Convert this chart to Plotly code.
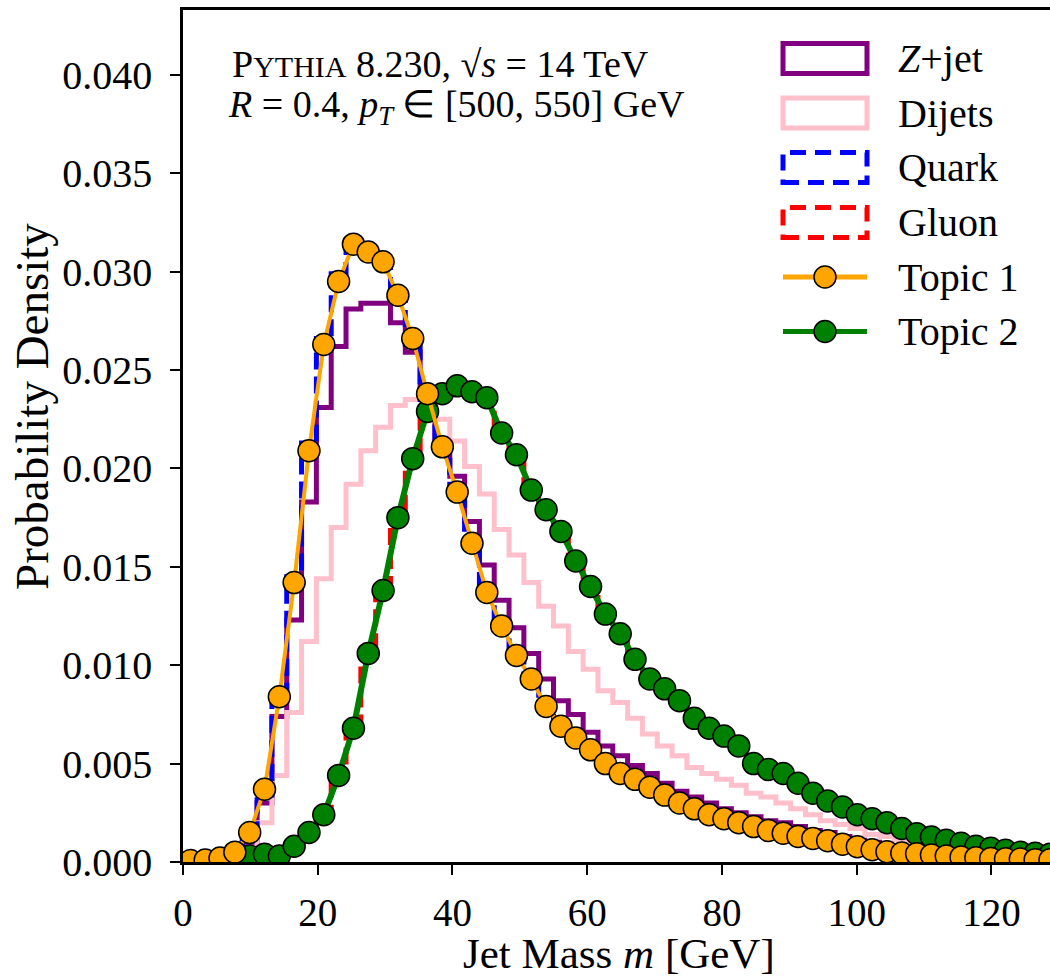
import numpy as np
import plotly.graph_objects as go

# ---------------- data ----------------
bin_edges = np.linspace(0.0, 132.0, 61)
bin_centers = 0.5 * (bin_edges[:-1] + bin_edges[1:])

zjet = [0.0, 0.00005, 0.0001, 0.0003, 0.0010, 0.0030, 0.0074, 0.0123, 0.0183, 0.0231,
        0.0262, 0.0281, 0.0284, 0.0284, 0.0274, 0.0259, 0.0236, 0.0212, 0.0196, 0.0173,
        0.0151, 0.0133, 0.0119, 0.0106, 0.0093, 0.0082, 0.0075, 0.0066, 0.0059, 0.0054,
        0.0049, 0.0045, 0.0040, 0.0036, 0.0033, 0.0030, 0.0027, 0.0025, 0.0023, 0.0021,
        0.0020, 0.0018, 0.0016, 0.0015, 0.0013, 0.0011, 0.0010, 0.0008, 0.0007, 0.0006,
        0.0005, 0.0005, 0.0004, 0.0004, 0.0003, 0.0003, 0.0003, 0.0002, 0.0002, 0.0002]

dijets = [0.0, 0.0, 0.00005, 0.0002, 0.0006, 0.0020, 0.0044, 0.0076, 0.0112, 0.0144,
          0.0170, 0.0192, 0.0209, 0.0221, 0.0232, 0.0235, 0.0237, 0.0225, 0.0214, 0.0201,
          0.0187, 0.0169, 0.0156, 0.0142, 0.0130, 0.0120, 0.0107, 0.0098, 0.0087, 0.0081,
          0.0073, 0.0065, 0.0059, 0.0054, 0.0048, 0.0045, 0.0042, 0.0039, 0.0035, 0.0033,
          0.0030, 0.0027, 0.0024, 0.0021, 0.0019, 0.0017, 0.0014, 0.0013, 0.0011, 0.0010,
          0.0009, 0.0008, 0.0007, 0.0006, 0.0005, 0.0005, 0.0004, 0.0004, 0.0003, 0.0003]

quark = [0.0001, 0.0001, 0.0002, 0.0005, 0.0012, 0.0034, 0.0080, 0.0145, 0.0213, 0.0266,
         0.0299, 0.0316, 0.0312, 0.0304, 0.0286, 0.0263, 0.0235, 0.0209, 0.0186, 0.0160,
         0.0135, 0.0118, 0.0104, 0.0092, 0.0078, 0.0069, 0.0062, 0.0056, 0.0050, 0.0045,
         0.0042, 0.0038, 0.0034, 0.0030, 0.0027, 0.0024, 0.0022, 0.0020, 0.0018, 0.0016,
         0.00146, 0.0013, 0.0012, 0.00108, 0.0009, 0.00078, 0.00062, 0.00052, 0.00046, 0.00042,
         0.00035, 0.0003, 0.00025, 0.00022, 0.00018, 0.00016, 0.00015, 0.00012, 0.00011, 0.0001]

gluon = [0.00002, 0.00003, 0.00005, 0.0001, 0.0003, 0.0004, 0.0003, 0.0008, 0.0015, 0.0024,
         0.0043, 0.0067, 0.0105, 0.0139, 0.0176, 0.0206, 0.0230, 0.0239, 0.0242, 0.0238,
         0.0235, 0.0218, 0.0206, 0.0189, 0.0178, 0.0167, 0.0153, 0.0140, 0.0126, 0.0116,
         0.0103, 0.0094, 0.0088, 0.0081, 0.0073, 0.0068, 0.0064, 0.0059, 0.0051, 0.0047,
         0.0045, 0.0040, 0.0035, 0.0031, 0.0028, 0.0024, 0.0022, 0.0020, 0.0017, 0.00144,
         0.00127, 0.0011, 0.00095, 0.0008, 0.0007, 0.0006, 0.0005, 0.00045, 0.0004, 0.00035]

topic1 = [0.00007, 0.0001, 0.0002, 0.0005, 0.0015, 0.0037, 0.0084, 0.0142, 0.0209, 0.0263,
          0.0295, 0.0314, 0.0310, 0.0305, 0.0288, 0.0266, 0.0238, 0.0211, 0.0188, 0.0162,
          0.0137, 0.0120, 0.0105, 0.0093, 0.0079, 0.0069, 0.0063, 0.0057, 0.0050, 0.0045,
          0.0042, 0.0038, 0.0034, 0.0030, 0.0027, 0.0024, 0.0022, 0.0020, 0.0018, 0.0016,
          0.00146, 0.0013, 0.0012, 0.00108, 0.0009, 0.00078, 0.00062, 0.00052, 0.00046, 0.00042,
          0.00035, 0.0003, 0.00025, 0.00022, 0.00018, 0.00016, 0.00015, 0.00012, 0.00011, 0.0001]

topic2 = [0.00002, 0.00003, 0.00005, 0.0001, 0.0003, 0.0004, 0.0003, 0.0008, 0.0015, 0.0024,
          0.0044, 0.0068, 0.0106, 0.0138, 0.0175, 0.0205, 0.0229, 0.0238, 0.0242, 0.0239,
          0.0236, 0.0218, 0.0207, 0.0189, 0.0179, 0.0168, 0.0153, 0.0140, 0.0126, 0.0116,
          0.0103, 0.0093, 0.0088, 0.0082, 0.0073, 0.0068, 0.0064, 0.0059, 0.0050, 0.0047,
          0.0045, 0.0040, 0.0035, 0.0031, 0.0028, 0.0024, 0.0022, 0.0020, 0.0017, 0.00144,
          0.00127, 0.0011, 0.00095, 0.0008, 0.0007, 0.0006, 0.0005, 0.00045, 0.0004, 0.00035]

x_ticks = [0, 20, 40, 60, 80, 100, 120]
y_ticks = [0.000, 0.005, 0.010, 0.015, 0.020, 0.025, 0.030, 0.035, 0.040]

legend_labels = ["<i>Z</i>+jet", "Dijets", "Quark", "Gluon", "Topic 1", "Topic 2"]

# ---------------- figure ----------------
FONT = "Liberation Serif"
W, H = 1050, 978
L, R, T, B = 183, 0, 10, 116
PW, PH = W - L - R, H - T - B

fig = go.Figure()


def step_trace(vals, color, dash=None, width=5):
    y = list(vals) + [vals[-1]]
    return go.Scatter(x=bin_edges, y=y, mode="lines", line_shape="hv",
                      line=dict(color=color, width=width, dash=dash),
                      showlegend=False, hoverinfo="skip")


fig.add_trace(step_trace(zjet, "purple"))
fig.add_trace(step_trace(dijets, "pink"))
fig.add_trace(step_trace(quark, "blue", dash="17px,7px"))
fig.add_trace(step_trace(gluon, "red", dash="17px,7px"))

fig.add_trace(go.Scatter(x=bin_centers, y=topic2, mode="lines+markers",
                         line=dict(color="green", width=6),
                         marker=dict(size=22, color="green", line=dict(color="black", width=1.5)),
                         showlegend=False, hoverinfo="skip"))
fig.add_trace(go.Scatter(x=bin_centers, y=topic1, mode="lines+markers",
                         line=dict(color="orange", width=4),
                         marker=dict(size=22, color="orange", line=dict(color="black", width=1.5)),
                         showlegend=False, hoverinfo="skip"))


def px(xp):
    return (xp - L) / PW


def py(yp):
    return (H - B - yp) / PH


shapes = []
annotations = []

# manual legend
sym_x0, sym_x1 = 783, 867
rows = [58.5, 113, 167.5, 222.5, 277, 331.5]
styles = [("purple", None), ("pink", None), ("blue", "dash"), ("red", "dash")]
for i, (c, d) in enumerate(styles):
    yc = rows[i]
    shapes.append(dict(type="rect", xref="paper", yref="paper",
                       x0=px(sym_x0), x1=px(sym_x1), y0=py(yc + 15), y1=py(yc - 15),
                       line=dict(color=c, width=5, dash="16px,9px" if d else None),
                       fillcolor="rgba(0,0,0,0)", layer="above"))
for i, (c, lw) in enumerate([("orange", 5), ("green", 5)]):
    yc = rows[4 + i]
    shapes.append(dict(type="line", xref="paper", yref="paper",
                       x0=px(sym_x0), x1=px(sym_x1), y0=py(yc), y1=py(yc),
                       line=dict(color=c, width=lw), layer="above"))
    xc = (sym_x0 + sym_x1) / 2
    shapes.append(dict(type="circle", xref="paper", yref="paper",
                       x0=px(xc - 11), x1=px(xc + 11), y0=py(yc + 11), y1=py(yc - 11),
                       line=dict(color="black", width=1.5), fillcolor=c, layer="above"))

for i, lab in enumerate(legend_labels):
    annotations.append(dict(text=lab, xref="paper", yref="paper", x=px(896), y=py(rows[i]),
                            xanchor="left", yanchor="middle", showarrow=False,
                            font=dict(family=FONT, size=40, color="black")))

# info text
annotations.append(dict(text="P<span style='font-size:30px'>YTHIA</span> 8.230, √<i>s</i> = 14 TeV",
                        xref="paper", yref="paper", x=px(230), y=py(64),
                        xanchor="left", yanchor="middle", showarrow=False,
                        font=dict(family=FONT, size=38, color="black")))
annotations.append(dict(text="<i>R</i> = 0.4, <i>p<sub>T</sub></i> ∈ [500, 550] GeV",
                        xref="paper", yref="paper", x=px(226), y=py(107),
                        xanchor="left", yanchor="middle", showarrow=False,
                        font=dict(family=FONT, size=38, color="black")))

# axis titles
annotations.append(dict(text="Jet Mass <i>m</i> [GeV]", xref="paper", yref="paper",
                        x=px(619), y=py(953), xanchor="center", yanchor="middle",
                        showarrow=False, font=dict(family=FONT, size=43, color="black")))
annotations.append(dict(text="Probability Density", xref="paper", yref="paper",
                        x=px(32), y=py(407), xanchor="center", yanchor="middle", textangle=-90,
                        showarrow=False, font=dict(family=FONT, size=47, color="black")))

fig.update_layout(
    width=W, height=H,
    margin=dict(l=L, r=R, t=T, b=B, pad=0),
    paper_bgcolor="white", plot_bgcolor="white",
    font=dict(family=FONT, size=38, color="black"),
    shapes=shapes, annotations=annotations,
    showlegend=False,
)
fig.update_xaxes(range=[0, 128.7], tickvals=x_ticks, ticktext=[str(v) for v in x_ticks],
                 showgrid=False, zeroline=False, showline=True, linecolor="black", linewidth=2.5,
                 mirror=True, ticks="outside", ticklen=10, tickwidth=2, tickcolor="black",
                 tickfont=dict(family=FONT, size=39), ticklabelstandoff=4)
fig.update_yaxes(range=[0, 0.0433], tickvals=y_ticks, ticktext=[f"{v:.3f}" for v in y_ticks],
                 showgrid=False, zeroline=False, showline=True, linecolor="black", linewidth=2.5,
                 mirror=False, ticks="outside", ticklen=10, tickwidth=2, tickcolor="black",
                 tickfont=dict(family=FONT, size=40), ticklabelstandoff=10)

fig.write_html("out.html", config={"displayModeBar": False},
               post_script="document.body.style.margin='0';document.body.style.padding='0';")
